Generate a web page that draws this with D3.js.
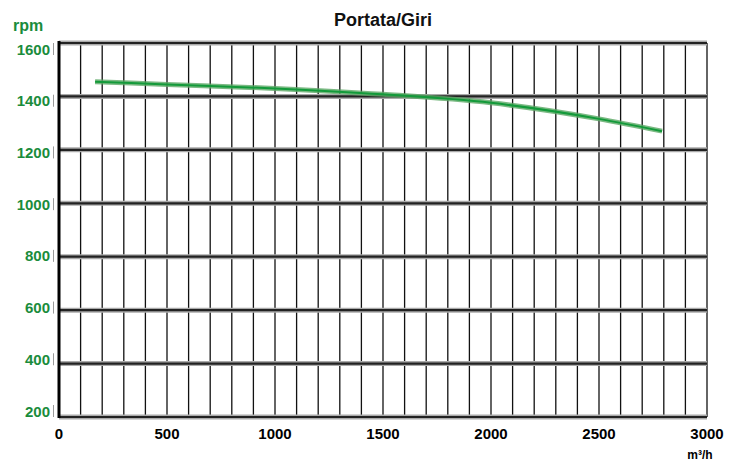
<!DOCTYPE html>
<html><head><meta charset="utf-8">
<script src="https://cdn.jsdelivr.net/npm/d3@7"></script>
<style>body{margin:0;background:#fff}svg{display:block}text{font-family:"Liberation Sans",Arial,sans-serif;font-weight:bold}</style>
</head><body><svg id="c" width="737" height="463"></svg>
<script>
const flow = [167, 500, 1000, 1500, 2000, 2500, 2792];
const rpm  = [1455, 1445, 1430, 1408, 1376, 1316, 1270];
const xTicks = [0, 500, 1000, 1500, 2000, 2500, 3000];
const yTicks = [200, 400, 600, 800, 1000, 1200, 1400, 1600];
const title = "Portata/Giri";

const svg = d3.select("#c");
const x = d3.scaleLinear().domain([0, 3000]).range([59, 707]);
const y = d3.scaleLinear().domain([200, 1600]).range([417, 43]);
const yLab = d3.scaleLinear().domain([200, 1600]).range([411, 49]);
const green = "#1a8c3c";

// vertical grid every 100
svg.append("g").selectAll("line").data(d3.range(100, 3001, 100)).join("line")
  .attr("x1", d => x(d)).attr("x2", d => x(d)).attr("y1", y(1600)).attr("y2", y(200))
  .attr("stroke", "#111").attr("stroke-width", 1.3);

// horizontal grid (halo + core)
const hg = svg.append("g");
hg.selectAll("line.h").data(yTicks).join("line").attr("class","h")
  .attr("x1", x(0)).attr("x2", x(3000)).attr("y1", d => y(d)).attr("y2", d => y(d))
  .attr("stroke", "#aaa").attr("stroke-width", 5);
hg.selectAll("line.c").data(yTicks).join("line").attr("class","c")
  .attr("x1", x(0)).attr("x2", x(3000)).attr("y1", d => y(d)).attr("y2", d => y(d))
  .attr("stroke", "#222").attr("stroke-width", 2.2);

// left axis line
svg.append("line").attr("x1", x(0)).attr("x2", x(0)).attr("y1", y(1600) - 2).attr("y2", y(200) + 1)
  .attr("stroke", "#000").attr("stroke-width", 3);

// y ticks (small gray marks) and labels
const ya = svg.append("g");
ya.selectAll("line").data(yTicks).join("line")
  .attr("x1", 53.5).attr("x2", 53.5).attr("y1", d => yLab(d) - 6).attr("y2", d => yLab(d) + 6)
  .attr("stroke", "#999").attr("stroke-width", 1);
ya.selectAll("text").data(yTicks).join("text")
  .attr("x", 50).attr("y", d => yLab(d) + 5.5).attr("text-anchor", "end")
  .attr("fill", green).attr("font-size", 15).text(d => d);
svg.append("text").attr("x", 13).attr("y", 31).attr("fill", green).attr("font-size", 16).text("rpm");

// x labels
svg.append("g").selectAll("text").data(xTicks).join("text")
  .attr("x", d => x(d)).attr("y", 439).attr("text-anchor", "middle")
  .attr("fill", "#000").attr("font-size", 15).text(d => d);
svg.append("text").attr("x", 700).attr("y", 459).attr("text-anchor", "middle")
  .attr("fill", "#000").attr("font-size", 12).text("m³/h");

// title
svg.append("text").attr("x", 383).attr("y", 26).attr("text-anchor", "middle")
  .attr("fill", "#111").attr("font-size", 18).text(title);

// curve
const line = d3.line().x((d, i) => x(flow[i])).y(d => y(d)).curve(d3.curveMonotoneX);
svg.append("path").attr("d", line(rpm)).attr("fill", "none")
  .attr("stroke", "#5aa864").attr("stroke-opacity", 0.8).attr("stroke-width", 5);
svg.append("path").attr("d", line(rpm)).attr("fill", "none")
  .attr("stroke", "#139a3a").attr("stroke-width", 2);
</script></body></html>
